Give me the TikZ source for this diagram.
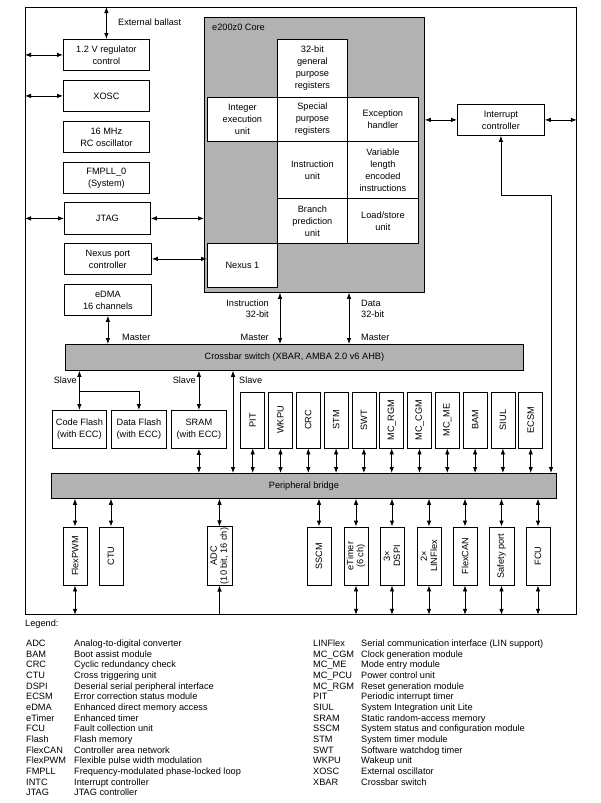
\documentclass[tikz,border=0pt]{standalone}
\usepackage{fontspec}
\setmainfont{Liberation Sans}
\usetikzlibrary{arrows.meta}
\newcommand\fs{\fontsize{9.2}{12}\selectfont}
\newcommand\fsv{\fontsize{9.2}{10}\selectfont}
\begin{document}
\begin{tikzpicture}[x=1pt,y=-1pt,
 box/.style={draw, fill=white, line width=0.8pt, align=center, inner sep=1pt, font=\fs, anchor=north west},
 gbox/.style={draw, fill=black!30, line width=0.8pt, inner sep=0pt, anchor=north west},
 vbox/.style={draw, fill=white, line width=0.8pt, align=center, inner sep=1pt, font=\fsv, rotate=90},
 lbl/.style={font=\fs, inner sep=0pt},
 ar/.style={-{Latex[length=6pt,width=4.5pt]}, line width=0.8pt},
 dar/.style={{Latex[length=6pt,width=4.5pt]}-{Latex[length=6pt,width=4.5pt]}, line width=0.8pt},
 ln/.style={line width=0.8pt}]
\useasboundingbox (0,0) rectangle (600,803);
% outer frame
\node[draw, line width=0.8pt, minimum width=551pt, minimum height=607pt, inner sep=0pt, anchor=north west] (frame) at (25,7) {};
% left column
\node[box, minimum width=86pt, minimum height=31pt] (reg) at (63,39) {1.2 V regulator\\control};
\node[box, minimum width=86pt, minimum height=31pt] (xosc) at (63,80) {XOSC};
\node[box, minimum width=86pt, minimum height=31pt] (rc) at (63,121) {16 MHz\\RC oscillator};
\node[box, minimum width=86pt, minimum height=31pt] (fmpll) at (63,162) {FMPLL\_0\\(System)};
\node[box, minimum width=86pt, minimum height=32pt] (jtag) at (64,202) {JTAG};
\node[box, minimum width=87pt, minimum height=31pt] (nexus) at (64,243) {Nexus port\\controller};
\node[box, minimum width=87pt, minimum height=31pt] (edma) at (64,284) {eDMA\\16 channels};
\node[lbl, anchor=west] (extb) at (118,22) {External ballast};
% core
\node[gbox, minimum width=220pt, minimum height=275pt] (core) at (204,17) {};
\node[lbl, anchor=west] (corel) at (212,27) {e200z0 Core};
\node[box, minimum width=70pt, minimum height=58pt] (gpr) at (277,39) {32-bit\\general\\purpose\\registers};
\node[box, minimum width=70pt, minimum height=44pt] (ieu) at (207,97) {Integer\\execution\\unit};
\node[box, minimum width=70pt, minimum height=44pt] (spr) at (277,97) {Special\\purpose\\registers};
\node[box, minimum width=71pt, minimum height=44pt] (exc) at (347,97) {Exception\\handler};
\node[box, minimum width=70pt, minimum height=57pt] (iu) at (277,141) {Instruction\\unit};
\node[box, minimum width=71pt, minimum height=57pt] (vle) at (347,141) {Variable\\length\\encoded\\instructions};
\node[box, minimum width=70pt, minimum height=45pt] (bpu) at (277,198) {Branch\\prediction\\unit};
\node[box, minimum width=71pt, minimum height=45pt] (lsu) at (347,198) {Load/store\\unit};
\node[box, minimum width=70pt, minimum height=44pt] (nex1) at (207,243) {Nexus 1};
% interrupt controller
\node[box, minimum width=87pt, minimum height=31pt] (ic) at (457,104) {Interrupt\\controller};
% crossbar and bridge
\node[gbox, minimum width=458pt, minimum height=26pt, font=\fs] (xbar) at (65,344) {Crossbar switch (XBAR, AMBA 2.0 v6 AHB)};
\node[gbox, minimum width=505pt, minimum height=25pt, font=\fs] (bridge) at (51,473) {Peripheral bridge};
% memories
\node[box, minimum width=54pt, minimum height=38pt] (cf) at (52,410) {Code Flash\\(with ECC)};
\node[box, minimum width=55pt, minimum height=38pt] (df) at (111,410) {Data Flash\\(with ECC)};
\node[box, minimum width=55pt, minimum height=38pt] (sram) at (171,410) {SRAM\\(with ECC)};
% slave peripherals
\foreach \n/\t [count=\i from 0] in {pit/PIT, wkpu/WKPU, crc/CRC, stm/STM, swt/SWT, mcrgm/MC\_RGM, mccgm/MC\_CGM, mcme/MC\_ME, bam/BAM, siul/SIUL, ecsm/ECSM}{
  \node[vbox, minimum width=56pt, minimum height=24pt] (\n) at ({252.7+27.8*\i},420) {\t};
  \draw[dar] (\n.west) -- (\n.west |- bridge.north);
}
% bottom peripherals
\node[vbox, minimum width=58pt, minimum height=24pt] (pwm) at (75,556) {FlexPWM};
\node[vbox, minimum width=58pt, minimum height=24pt] (ctu) at (111,556) {CTU};
\node[vbox, minimum width=58pt, minimum height=25pt] (adc) at (219.5,556) {ADC\\(10 bit, 16 ch)};
\node[vbox, minimum width=58pt, minimum height=24pt] (sscm) at (319,556) {SSCM};
\node[vbox, minimum width=58pt, minimum height=24pt] (etimer) at (356,556) {eTimer\\(6 ch)};
\node[vbox, minimum width=58pt, minimum height=24pt] (dspi) at (392,556) {3×\\DSPI};
\node[vbox, minimum width=58pt, minimum height=24pt] (lin) at (429,556) {2×\\LINFlex};
\node[vbox, minimum width=58pt, minimum height=24pt] (can) at (465,556) {FlexCAN};
\node[vbox, minimum width=58pt, minimum height=25pt] (safe) at (501.5,556) {Safety port};
\node[vbox, minimum width=58pt, minimum height=24pt] (fcu) at (538,556) {FCU};
\foreach \n in {pwm,ctu,adc,sscm,etimer,dspi,lin,can,safe,fcu}
  \draw[dar] (\n.east) -- (\n.east |- bridge.south);
\foreach \n in {pwm,etimer,dspi,lin,can,safe,fcu}
  \draw[dar] (\n.west) -- (\n.west |- frame.south);
\draw[ar] (adc.west |- frame.south) -- (adc.west);
% left-side connectors
\draw[dar] (reg.north) -- (reg.north |- frame.north);
\draw[dar] (reg.west -| frame.west) -- (reg.west);
\draw[dar] (xosc.west -| frame.west) -- (xosc.west);
\draw[dar] (jtag.west -| frame.west) -- (jtag.west);
\draw[dar] (jtag.east) -- (jtag.east -| core.west);
\draw[dar] (nexus.east) -- (nexus.east -| nex1.west);
\draw[dar] (edma.south) -- (edma.south |- xbar.north);
\node[lbl, anchor=west] (m1) at (122,337) {Master};
% core buses
\coordinate (ix) at (280,300);
\coordinate (dx) at (349,300);
\draw[dar] (ix |- xbar.north) -- (ix |- core.south);
\draw[dar] (dx |- xbar.north) -- (dx |- core.south);
\node[lbl, anchor=east] (m2) at (269,337) {Master};
\node[lbl, anchor=west] (m3) at (361,337) {Master};
\node[lbl, anchor=east] (instl) at (269,303) {Instruction};
\node[lbl, anchor=east] (inst2) at (269,314) {32-bit};
\node[lbl, anchor=west] (datal) at (361,303) {Data};
\node[lbl, anchor=west] (data2) at (361,314) {32-bit};
% interrupt connections
\draw[dar] (core.east |- ic.west) -- (ic.west);
\draw[dar] (ic.east) -- (ic.east -| frame.east);
\coordinate (ib) at (551,195);
\draw[dar] (ib |- bridge.north) -- (ib) -- (ib -| ic.south) -- (ic.south);
% slaves
\draw[dar] (cf.north |- xbar.south) -- (cf.north);
\coordinate (br) at (79,391);
\draw[ar] (br -| cf.north) -| (df.north);
\node[lbl, anchor=east] (s1) at (77,380) {Slave};
\draw[dar] (sram.north |- xbar.south) -- (sram.north);
\draw[dar] (sram.south) -- (sram.south |- bridge.north);
\node[lbl, anchor=east] (s2) at (196,380) {Slave};
\coordinate (sx) at (233,420);
\draw[dar] (sx |- xbar.south) -- (sx |- bridge.north);
\node[lbl, anchor=west] (s3) at (239,380) {Slave};
% legend
\node[lbl, anchor=west] (leg) at (25,624) {Legend:};
\node[anchor=north west, inner sep=0pt, font=\fontsize{9.2}{10.65}\selectfont] (legl) at (26,639) {%
\begin{tabular}{@{}p{48pt}@{}l@{}}
ADC & Analog-to-digital converter\\
BAM & Boot assist module\\
CRC & Cyclic redundancy check\\
CTU & Cross triggering unit\\
DSPI & Deserial serial peripheral interface\\
ECSM & Error correction status module\\
eDMA & Enhanced direct memory access\\
eTimer & Enhanced timer\\
FCU & Fault collection unit\\
Flash & Flash memory\\
FlexCAN & Controller area network\\
FlexPWM & Flexible pulse width modulation\\
FMPLL & Frequency-modulated phase-locked loop\\
INTC & Interrupt controller\\
JTAG & JTAG controller
\end{tabular}};
\node[anchor=north west, inner sep=0pt, font=\fontsize{9.2}{10.65}\selectfont] (legr) at (313,639) {%
\begin{tabular}{@{}p{48pt}@{}l@{}}
LINFlex & Serial communication interface (LIN support)\\
MC\_CGM & Clock generation module\\
MC\_ME & Mode entry module\\
MC\_PCU & Power control unit\\
MC\_RGM & Reset generation module\\
PIT & Periodic interrupt timer\\
SIUL & System Integration unit Lite\\
SRAM & Static random-access memory\\
SSCM & System status and configuration module\\
STM & System timer module\\
SWT & Software watchdog timer\\
WKPU & Wakeup unit\\
XOSC & External oscillator\\
XBAR & Crossbar switch
\end{tabular}};
\end{tikzpicture}
\end{document}
